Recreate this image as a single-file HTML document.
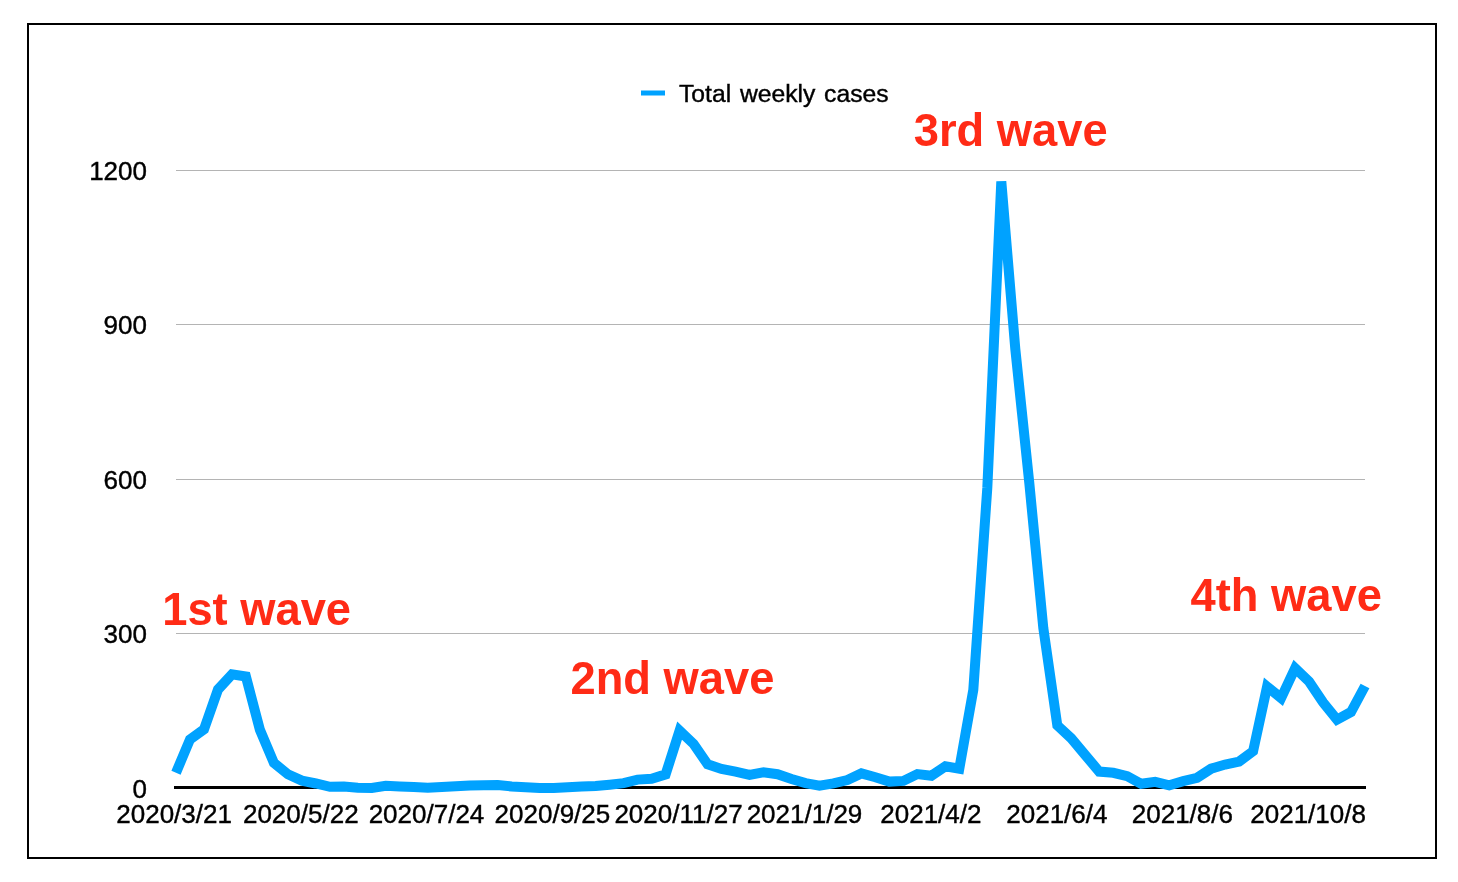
<!DOCTYPE html>
<html lang="en">
<head>
<meta charset="utf-8">
<title>Total weekly cases</title>
<style>
html,body{margin:0;padding:0;background:#fff;}
body{width:1458px;height:882px;overflow:hidden;}
svg{display:block;}
text{font-family:"Liberation Sans",Arial,Helvetica,sans-serif;}
.ax text{font-size:26px;fill:#000;stroke:#000;stroke-width:0.4px;}
.wave text{font-size:45.3px;font-weight:bold;fill:#ff2b16;}
</style>
</head>
<body>
<svg width="1458" height="882" viewBox="0 0 1458 882">
<rect x="0" y="0" width="1458" height="882" fill="#ffffff"/>
<rect x="28" y="24" width="1408" height="834" fill="none" stroke="#000" stroke-width="2"/>
<g stroke="#b4b4b4" stroke-width="1" shape-rendering="crispEdges">
<line x1="176" y1="170.5" x2="1365" y2="170.5"/>
<line x1="176" y1="324.5" x2="1365" y2="324.5"/>
<line x1="176" y1="479.5" x2="1365" y2="479.5"/>
<line x1="176" y1="633.5" x2="1365" y2="633.5"/>
</g>
<rect x="174" y="786" width="1192" height="3" fill="#000"/>
<g class="ax">
<g text-anchor="end">
<text x="147.0" y="180.2">1200</text>
<text x="147.0" y="334.4">900</text>
<text x="147.0" y="489.2">600</text>
<text x="147.0" y="643.4">300</text>
<text x="147.0" y="798.0">0</text>
</g>
<text x="174.1" y="823.2" text-anchor="middle">2020/3/21</text>
<text x="300.8" y="823.2" text-anchor="middle">2020/5/22</text>
<text x="426.5" y="823.2" text-anchor="middle">2020/7/24</text>
<text x="552.4" y="823.2" text-anchor="middle">2020/9/25</text>
<text x="678.5" y="823.2" text-anchor="middle">2020/11/27</text>
<text x="804.5" y="823.2" text-anchor="middle">2021/1/29</text>
<text x="930.9" y="823.2" text-anchor="middle">2021/4/2</text>
<text x="1056.9" y="823.2" text-anchor="middle">2021/6/4</text>
<text x="1182.4" y="823.2" text-anchor="middle">2021/8/6</text>
<text x="1308.1" y="823.2" text-anchor="middle">2021/10/8</text>
<text x="679" y="101.8" style="font-size:24.7px;word-spacing:1.9px">Total weekly cases</text>
</g>
<rect x="641" y="90.5" width="24" height="5" fill="#00a2ff"/>
<polyline fill="none" stroke="#00a2ff" stroke-width="10" stroke-linejoin="miter" stroke-miterlimit="10" stroke-linecap="butt" points="176.0,772.7 190.0,739.4 204.0,729.4 218.0,689.5 232.0,674.4 245.9,676.5 259.9,729.8 273.9,762.9 287.9,774.3 301.9,780.6 315.9,783.5 329.9,786.8 343.9,786.6 357.8,787.8 371.8,788.0 385.8,785.8 399.8,786.4 413.8,787.1 427.8,787.7 441.8,787.0 455.8,786.3 469.8,785.4 483.7,785.3 497.7,785.0 511.7,786.5 525.7,787.3 539.7,788.0 553.7,787.9 567.7,787.3 581.7,786.6 595.6,786.0 609.6,784.7 623.6,783.1 637.6,779.6 651.6,778.7 665.6,774.4 679.6,730.7 693.6,743.9 707.6,764.3 721.5,769.0 735.5,771.7 749.5,774.9 763.5,772.2 777.5,774.2 791.5,779.0 805.5,783.1 819.5,785.6 833.4,783.4 847.4,780.0 861.4,773.4 875.4,777.2 889.4,781.6 903.4,780.9 917.4,774.1 931.4,775.7 945.4,766.3 959.3,768.7 973.3,689.8 987.3,488.0 1001.3,181.5 1015.3,349.0 1029.3,483.0 1043.3,628.0 1057.3,725.4 1071.2,738.3 1085.2,755.0 1099.2,771.6 1113.2,772.8 1127.2,776.2 1141.2,783.8 1155.2,781.9 1169.2,785.3 1183.2,781.2 1197.1,777.8 1211.1,768.7 1225.1,764.5 1239.1,761.6 1253.1,751.2 1267.1,686.6 1281.1,698.0 1295.1,668.1 1309.0,681.4 1323.0,702.3 1337.0,719.6 1351.0,712.0 1365.0,686.0"/>
<g class="wave">
<text x="162.2" y="624.6">1st wave</text>
<text x="570.5" y="694">2nd wave</text>
<text x="913.7" y="146.1">3rd wave</text>
<text x="1190.6" y="610.7">4th wave</text>
</g>
</svg>
</body>
</html>
